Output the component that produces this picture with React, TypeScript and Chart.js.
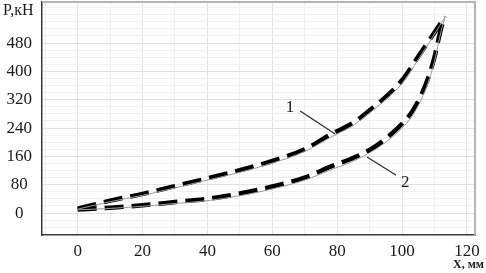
import { useEffect, useRef } from "react";
import { Chart, registerables } from "chart.js";

Chart.register(...registerables);

// Curve 1 (upper, dashed)
const X1 = [0, 10, 20, 30, 40, 50, 60, 70, 78, 85, 90, 95, 100, 105, 110, 113.3];
const P1 = [12, 35, 54, 76, 98, 121, 147, 180, 222, 255, 290, 328, 375, 442, 510, 555];
// Curve 1 thin reference line
const X1T = [0, 10, 20, 30, 40, 50, 60, 70, 78, 85, 90, 95, 100, 105, 110, 113.3];
const P1T = [11, 32, 50, 71, 93, 115, 141, 174, 214, 248, 283, 321, 366, 434, 505, 555];

// Curve 2 (lower, dashed)
const X2 = [0, 10, 20, 30, 40, 50, 60, 70, 78, 84, 90, 95, 100, 103, 106, 108, 110, 112, 113.3];
const P2 = [10, 15, 22, 31, 40, 55, 75, 100, 131, 152, 178, 210, 252, 285, 335, 380, 440, 520, 555];
// Curve 2 thin reference line
const X2T = [0, 10, 20, 30, 40, 50, 60, 70, 78, 84, 90, 95, 100, 103, 106, 108, 110, 112, 113.3];
const P2T = [9, 13, 19, 27, 35, 49, 68, 93, 122, 143, 170, 200, 240, 272, 322, 367, 428, 512, 555];

const X_TICK_LABELS = [0, 20, 40, 60, 80, 100, 120];
const Y_TICK_LABELS = [0, 80, 160, 240, 320, 400, 480];

const CURVE_NAMES = ["1", "2"];
const Y_TITLE = "P,кН";
const X_TITLE = "X, мм";

// annotation anchors in data coordinates: [labelX, labelY, lineFromX, lineFromY, lineToX, lineToY]
const ANNOTATIONS = [
  [65.5, 299, 68.6, 288, 79.4, 223],
  [101, 86, 98.2, 107, 89.2, 158],
];

const pts = (xs: number[], ys: number[]) => xs.map((x, i) => ({ x, y: ys[i] }));

export default function App() {
  const ref = useRef<HTMLCanvasElement | null>(null);

  useEffect(() => {
    document.body.style.margin = "0";
    const canvas = ref.current;
    if (!canvas) return;

    const serif = "'Liberation Serif', 'Times New Roman', serif";

    const annot = {
      id: "annot",
      afterDatasetsDraw(chart: any) {
        const { ctx, chartArea: a } = chart;
        const x = chart.scales.x;
        const y = chart.scales.y;
        ctx.save();
        // light top/right frame
        ctx.strokeStyle = "#b4b4b4";
        ctx.lineWidth = 2;
        ctx.beginPath();
        ctx.moveTo(a.left, a.top);
        ctx.lineTo(a.right, a.top);
        ctx.lineTo(a.right, a.bottom);
        ctx.stroke();

        ctx.fillStyle = "#1a1a1a";
        ctx.strokeStyle = "#2a2a2a";
        ctx.lineWidth = 1.2;
        ctx.font = `17px ${serif}`;
        ctx.textAlign = "center";
        ctx.textBaseline = "middle";
        ANNOTATIONS.forEach((an, i) => {
          ctx.fillText(CURVE_NAMES[i], x.getPixelForValue(an[0]), y.getPixelForValue(an[1]));
          ctx.beginPath();
          ctx.moveTo(x.getPixelForValue(an[2]), y.getPixelForValue(an[3]));
          ctx.lineTo(x.getPixelForValue(an[4]), y.getPixelForValue(an[5]));
          ctx.stroke();
        });

        // axis titles
        ctx.textAlign = "left";
        ctx.font = `16px ${serif}`;
        ctx.fillText(Y_TITLE, 3, 11);
        ctx.textAlign = "right";
        ctx.font = `bold 12px ${serif}`;
        ctx.fillText(X_TITLE, 484, 265);
        ctx.restore();
      },
    };

    const gridColor = (labels: number[]) => (c: any) =>
      c.tick && labels.includes(c.tick.value) ? "#e2e2e2" : "#f0f0f0";

    const chart = new Chart(canvas, {
      type: "scatter",
      data: {
        datasets: [
          {
            data: pts(X1T, P1T),
            showLine: true,
            borderColor: "#9a9a9a",
            borderWidth: 1,
            pointRadius: 0,
            cubicInterpolationMode: "monotone",
          },
          {
            data: pts(X2T, P2T),
            showLine: true,
            borderColor: "#9a9a9a",
            borderWidth: 1,
            pointRadius: 0,
            cubicInterpolationMode: "monotone",
          },
          {
            data: pts(X1, P1),
            showLine: true,
            borderColor: "#000",
            borderWidth: 4.5,
            borderDash: [19, 8],
            pointRadius: 0,
            cubicInterpolationMode: "monotone",
          },
          {
            data: pts(X2, P2),
            showLine: true,
            borderColor: "#000",
            borderWidth: 4.5,
            borderDash: [19, 8],
            pointRadius: 0,
            cubicInterpolationMode: "monotone",
          },
        ],
      },
      options: {
        responsive: false,
        animation: false,
        layout: { padding: { left: 0, right: 11, top: 2, bottom: 0 } },
        plugins: { legend: { display: false }, tooltip: { enabled: false } },
        scales: {
          x: {
            type: "linear",
            min: -11,
            max: 122.5,
            afterBuildTicks: (s: any) => {
              const t = [];
              for (let v = -10; v <= 120; v += 10) t.push({ value: v });
              s.ticks = t;
            },
            afterFit: (s: any) => {
              s.height = 38;
              s.paddingLeft = 0;
              s.paddingRight = 0;
            },
            ticks: {
              autoSkip: false,
              maxRotation: 0,
              padding: 6,
              color: "#1a1a1a",
              font: { family: serif, size: 17 },
              callback: (v: any) => (X_TICK_LABELS.includes(Number(v)) ? String(v) : ""),
            },
            grid: { color: gridColor(X_TICK_LABELS), drawTicks: false },
            border: { display: true, color: "#3a3a3a", width: 1.5 },
          },
          y: {
            type: "linear",
            min: -62,
            max: 596,
            afterBuildTicks: (s: any) => {
              const t = [];
              for (let v = -60; v <= 580; v += 20) t.push({ value: v });
              s.ticks = t;
            },
            afterFit: (s: any) => {
              s.width = 42;
              s.paddingTop = 0;
              s.paddingBottom = 0;
            },
            ticks: {
              autoSkip: false,
              padding: 10,
              crossAlign: "center",
              color: "#1a1a1a",
              font: { family: serif, size: 17 },
              callback: (v: any) => (Y_TICK_LABELS.includes(Number(v)) ? String(v) : ""),
            },
            grid: { color: gridColor(Y_TICK_LABELS), drawTicks: false },
            border: { display: true, color: "#3a3a3a", width: 1.5 },
          },
        },
      },
      plugins: [annot],
    } as any);

    return () => chart.destroy();
  }, []);

  return <canvas ref={ref} width={486} height={273} style={{ display: "block" }} />;
}
